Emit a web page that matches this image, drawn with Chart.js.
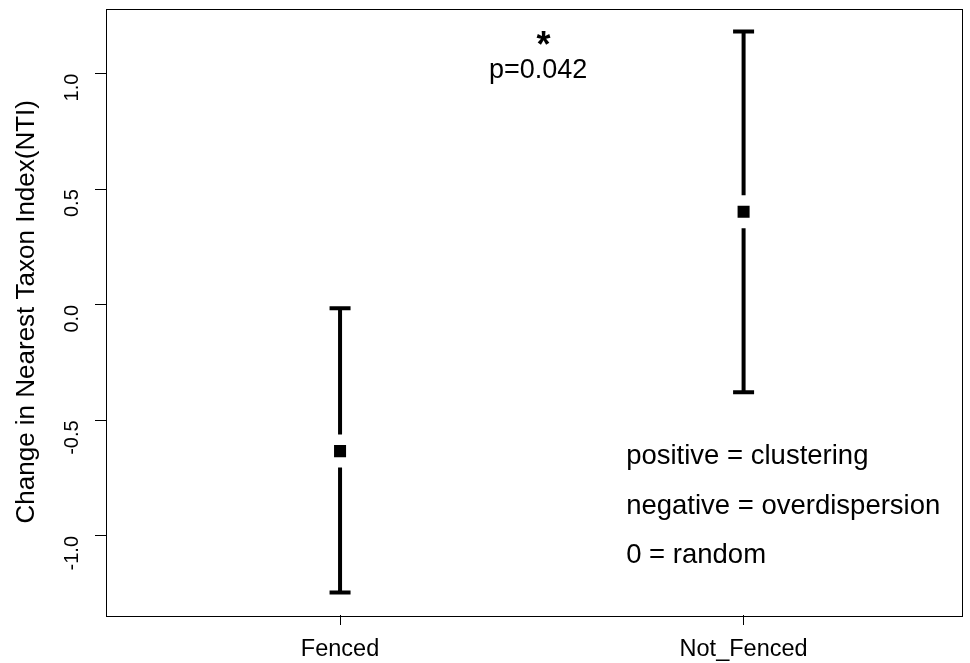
<!DOCTYPE html>
<html>
<head>
<meta charset="utf-8">
<script src="https://cdn.jsdelivr.net/npm/chart.js@4"></script>
<style>
  html,body{margin:0;padding:0;background:#fff;}
  #wrap{width:970px;height:663px;position:relative;}
</style>
</head>
<body>
<div id="wrap"><canvas id="c" width="970" height="663"></canvas></div>
<script>
// ---- data ----
const categories = ["Fenced", "Not_Fenced"];
const means = [-0.633, 0.403];
const lower = [-1.245, -0.378];
const upper = [-0.015, 1.183];
const yTicks = [-1.0, -0.5, 0.0, 0.5, 1.0];
const yTitle = "Change in Nearest Taxon Index(NTI)";
const sigMark = "*";
const pText = "p=0.042";
const notes = ["positive = clustering", "negative = overdispersion", "0 = random"];

const FONT = "'Liberation Sans', Arial, Helvetica, sans-serif";

const boxPlugin = {
  id: 'box',
  afterDraw(chart) {
    const ctx = chart.ctx, a = chart.chartArea;
    ctx.save();
    ctx.strokeStyle = '#000';
    ctx.lineWidth = 1;
    ctx.strokeRect(Math.round(a.left) + 0.5, Math.round(a.top) + 0.5,
                   Math.round(a.right - a.left), Math.round(a.bottom - a.top));
    ctx.restore();
  }
};

const errPlugin = {
  id: 'errbars',
  afterDatasetsDraw(chart) {
    const ctx = chart.ctx, xs = chart.scales.x, ys = chart.scales.y;
    ctx.save();
    ctx.strokeStyle = '#000';
    ctx.lineWidth = 4;
    ctx.lineCap = 'butt';
    const gap = 16.5, cap = 10.5;
    for (let i = 0; i < categories.length; i++) {
      const x = xs.getPixelForValue(i + 1);
      const yl = ys.getPixelForValue(lower[i]);
      const yu = ys.getPixelForValue(upper[i]);
      const ym = ys.getPixelForValue(means[i]);
      ctx.beginPath();
      ctx.moveTo(x, yu); ctx.lineTo(x, ym - gap);
      ctx.moveTo(x, ym + gap); ctx.lineTo(x, yl);
      ctx.moveTo(x - cap, yu); ctx.lineTo(x + cap, yu);
      ctx.moveTo(x - cap, yl); ctx.lineTo(x + cap, yl);
      ctx.stroke();
    }
    // annotations (anchored in data coordinates)
    ctx.fillStyle = '#000';
    ctx.textBaseline = 'alphabetic';
    ctx.textAlign = 'center';
    ctx.font = 'bold 36px ' + FONT;
    ctx.fillText(sigMark, xs.getPixelForValue(1.504), ys.getPixelForValue(1.071));
    ctx.font = '27px ' + FONT;
    ctx.fillText(pText, xs.getPixelForValue(1.491), ys.getPixelForValue(0.981));
    ctx.textAlign = 'left';
    ctx.font = '27.5px ' + FONT;
    const noteY = [-0.688, -0.903, -1.118];
    for (let k = 0; k < notes.length; k++) {
      ctx.fillText(notes[k], xs.getPixelForValue(1.709), ys.getPixelForValue(noteY[k]));
    }
    ctx.restore();
  }
};

new Chart(document.getElementById('c'), {
  type: 'scatter',
  data: {
    datasets: [{
      data: means.map((v, i) => ({x: i + 1, y: v})),
      pointStyle: 'rect',
      pointRadius: 8.5,
      backgroundColor: '#000',
      borderColor: '#000',
      borderWidth: 0
    }]
  },
  options: {
    responsive: false,
    animation: false,
    devicePixelRatio: 1,
    layout: {padding: {left: 0, top: 5, right: 5, bottom: 0}},
    plugins: {legend: {display: false}, tooltip: {enabled: false}},
    scales: {
      x: {
        type: 'linear',
        min: 0.42, max: 2.54,
        afterBuildTicks(s) { s.ticks = categories.map((c, i) => ({value: i + 1})); },
        afterFit(s) { s.height = 48; s.paddingLeft = 0; s.paddingRight = 0; },
        ticks: {
          callback: (v) => categories[Math.round(v) - 1],
          color: '#000',
          font: {family: FONT, size: 23.5},
          padding: 10,
          maxRotation: 0, minRotation: 0
        },
        grid: {drawOnChartArea: false, drawTicks: true, tickLength: 10, color: '#000'},
        border: {display: false}
      },
      y: {
        type: 'linear',
        min: -1.342, max: 1.282,
        afterBuildTicks(s) { s.ticks = yTicks.map(v => ({value: v})); },
        afterFit(s) { s.width = 106; s.paddingTop = 0; s.paddingBottom = 0; },
        ticks: {
          callback: (v) => v.toFixed(1),
          color: '#000',
          font: {family: FONT, size: 20},
          padding: 23,
          minRotation: 90, maxRotation: 90
        },
        title: {
          display: true, text: yTitle, color: '#000',
          font: {family: FONT, size: 26}, padding: {top: 11.5, bottom: 0}
        },
        grid: {drawOnChartArea: false, drawTicks: true, tickLength: 11, color: '#000'},
        border: {display: false}
      }
    }
  },
  plugins: [boxPlugin, errPlugin]
});
</script>
</body>
</html>
